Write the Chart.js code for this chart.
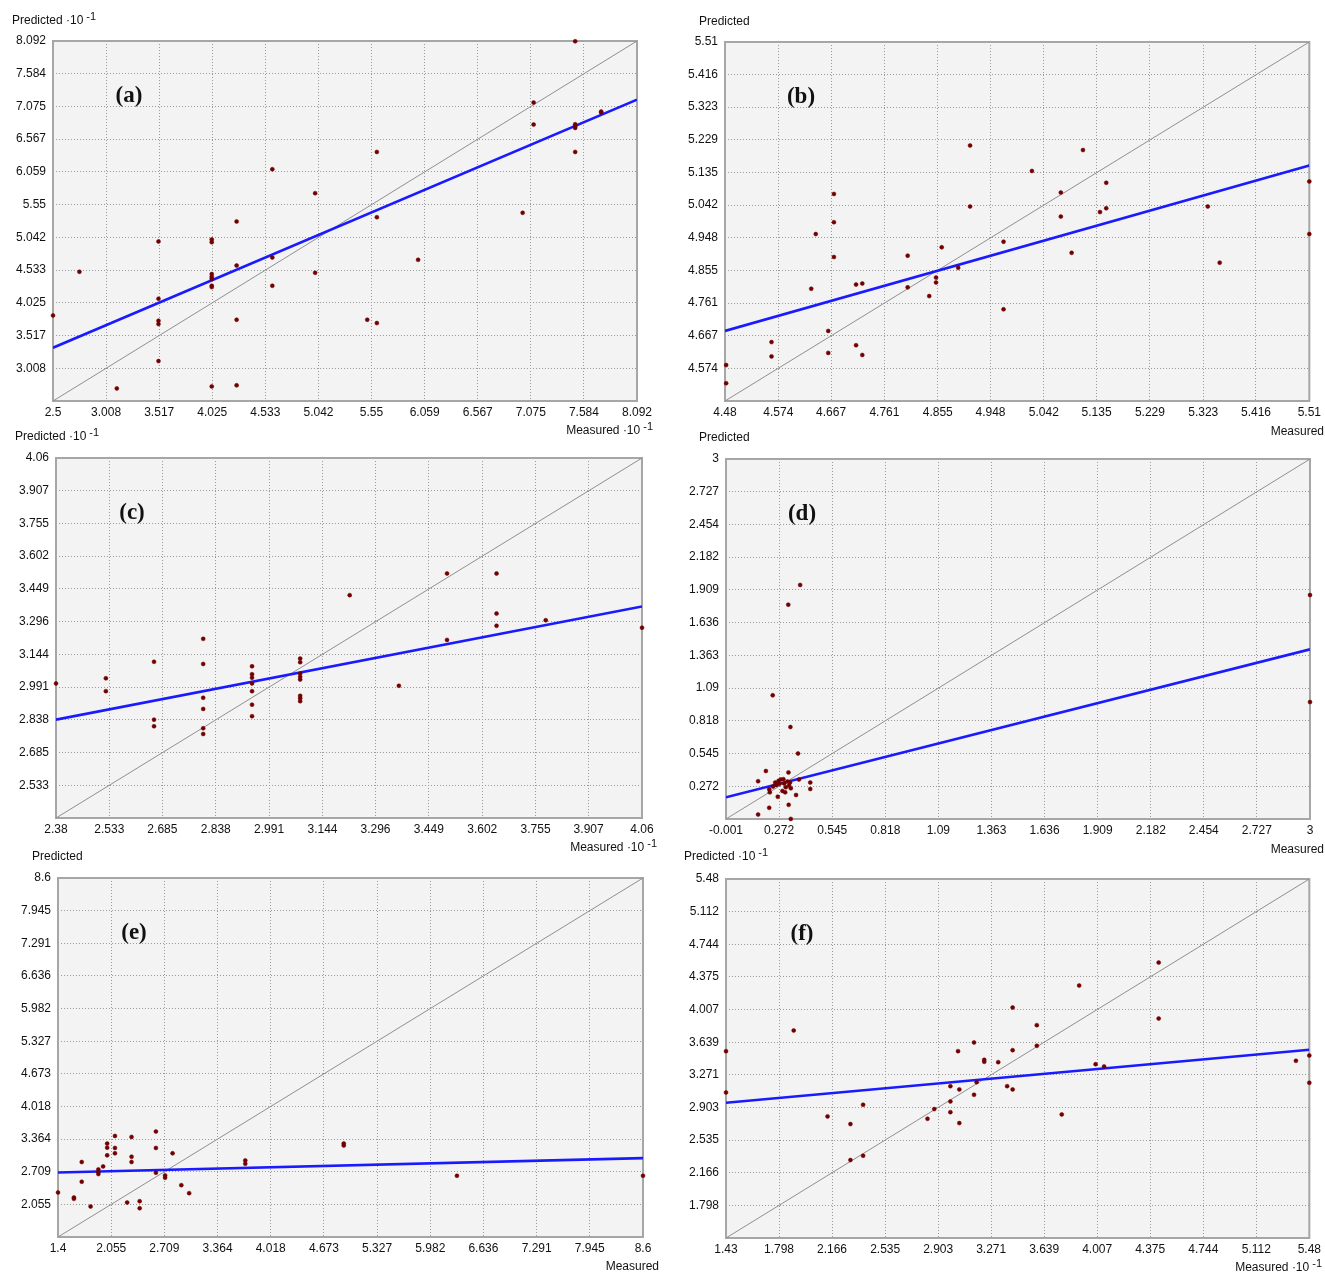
<!DOCTYPE html>
<html>
<head>
<meta charset="utf-8">
<script src="https://cdn.jsdelivr.net/npm/chart.js@4.4.1/dist/chart.umd.min.js"></script>
<style>
  html, body { margin: 0; padding: 0; background: #fff; }
  #wrap { position: relative; width: 1325px; height: 1273px; overflow: hidden; }
  #wrap canvas { position: absolute; }
</style>
</head>
<body>
<div id="wrap"></div>
<script>
// (a)
const ticksA = [2.5, 3.008, 3.517, 4.025, 4.533, 5.042, 5.55, 6.059, 6.567, 7.075, 7.584, 8.092];
const measuredA = [2.5, 2.753, 3.111, 3.51, 3.51, 3.51, 3.51, 3.51, 4.02, 4.02, 4.02, 4.02, 4.02, 4.02, 4.02, 4.02,
  4.258, 4.258, 4.258, 4.258, 4.6, 4.6, 4.6, 5.01, 5.01, 5.509, 5.601, 5.601, 5.601, 5.996, 6.997, 7.102, 7.102,
  7.5, 7.5, 7.5, 7.5, 7.5, 7.749, 7.749];
const predictedA = [3.829, 4.507, 2.696, 4.978, 4.088, 3.746, 3.695, 3.12, 5.009, 4.967, 4.471, 4.429, 4.398, 4.29, 4.269, 2.727,
  5.288, 4.605, 3.762, 2.743, 6.1, 4.729, 4.29, 5.728, 4.491, 3.762, 6.369, 5.355, 3.71, 4.693, 5.423, 7.135, 6.794,
  8.087, 6.799, 6.768, 6.742, 6.369, 6.995, 6.98];
const fitA = [3.327, 7.181];

// (b)
const ticksB = [4.48, 4.574, 4.667, 4.761, 4.855, 4.948, 5.042, 5.135, 5.229, 5.323, 5.416, 5.51];
const measuredB = [4.482, 4.482, 4.562, 4.562, 4.632, 4.64, 4.662, 4.662, 4.672, 4.672, 4.672, 4.711, 4.722, 4.711, 4.722,
  4.802, 4.802, 4.84, 4.852, 4.852, 4.862, 4.891, 4.912, 4.912, 4.971, 4.971, 5.021, 5.072, 5.072, 5.091, 5.111,
  5.141, 5.152, 5.152, 5.331, 5.352, 5.51, 5.51];
const predictedB = [4.583, 4.531, 4.649, 4.608, 4.802, 4.959, 4.681, 4.618, 5.074, 4.993, 4.893, 4.814, 4.817, 4.64, 4.612,
  4.897, 4.806, 4.781, 4.834, 4.82, 4.921, 4.862, 5.213, 5.038, 4.937, 4.743, 5.14, 5.078, 5.009, 4.905, 5.2,
  5.022, 5.106, 5.033, 5.038, 4.877, 5.11, 4.959];
const fitB = [4.681, 5.156];

// (c)
const ticksC = [2.38, 2.533, 2.685, 2.838, 2.991, 3.144, 3.296, 3.449, 3.602, 3.755, 3.907, 4.06];
const measuredC = [2.38, 2.523, 2.523, 2.661, 2.661, 2.661, 2.802, 2.802, 2.802, 2.802, 2.802, 2.802,
  2.942, 2.942, 2.942, 2.942, 2.942, 2.942, 2.942, 3.08, 3.08, 3.08, 3.08, 3.08, 3.08, 3.08, 3.08,
  3.222, 3.363, 3.501, 3.501, 3.643, 3.643, 3.643, 3.784, 4.06];
const predictedC = [3.008, 3.032, 2.972, 3.109, 2.839, 2.808, 3.216, 3.099, 2.941, 2.889, 2.799, 2.772,
  3.088, 3.051, 3.035, 3.008, 2.972, 2.909, 2.855, 3.124, 3.107, 3.054, 3.039, 3.026, 2.95, 2.939, 2.925,
  3.42, 2.997, 3.521, 3.211, 3.521, 3.334, 3.277, 3.303, 3.268];
const fitC = [2.839, 3.367];

// (d)
const ticksD = [-0.001, 0.272, 0.545, 0.818, 1.09, 1.363, 1.636, 1.909, 2.182, 2.454, 2.727, 3];
const measuredD = [0.38, 0.319, 0.239, 0.33, 0.369, 0.204, 0.32, 0.164, 0.252, 0.269, 0.281, 0.294, 0.258, 0.241,
  0.221, 0.224, 0.298, 0.306, 0.323, 0.328, 0.332, 0.289, 0.303, 0.265, 0.359, 0.374, 0.432, 0.432, 0.221, 0.321,
  0.164, 0.332, 0.272, 0.315, 3, 3];
const predictedD = [1.95, 1.786, 1.03, 0.766, 0.545, 0.399, 0.387, 0.314, 0.303, 0.317, 0.328, 0.331, 0.283, 0.269,
  0.247, 0.221, 0.295, 0.264, 0.278, 0.303, 0.255, 0.233, 0.221, 0.185, 0.199, 0.328, 0.303, 0.249, 0.092, 0.117,
  0.036, 0.0, 0.292, 0.311, 1.866, 0.974];
const fitD = [0.18, 1.413];

// (e)
const ticksE = [1.4, 2.055, 2.709, 3.364, 4.018, 4.673, 5.327, 5.982, 6.636, 7.291, 7.945, 8.6];
const measuredE = [1.4, 1.596, 1.596, 1.692, 1.692, 1.801, 1.897, 1.897, 1.897, 1.955, 2.005, 2.005, 2.005,
  2.101, 2.101, 2.101, 2.251, 2.305, 2.305, 2.305, 2.405, 2.405, 2.605, 2.605, 2.605, 2.718, 2.718, 2.81,
  2.918, 3.014, 3.705, 3.705, 4.917, 4.917, 6.31, 8.6];
const predictedE = [2.293, 2.192, 2.165, 2.904, 2.508, 2.011, 2.756, 2.702, 2.662, 2.816, 3.273, 3.192, 3.038,
  3.427, 3.186, 3.078, 2.091, 3.407, 3.011, 2.904, 2.118, 1.977, 3.515, 3.186, 2.689, 2.635, 2.588, 3.078,
  2.44, 2.279, 2.935, 2.868, 3.275, 3.235, 2.628, 2.628];
const fitE = [2.695, 2.981];

// (f)
const ticksF = [1.43, 1.798, 2.166, 2.535, 2.903, 3.271, 3.639, 4.007, 4.375, 4.744, 5.112, 5.48];
const measuredF = [1.43, 1.43, 1.9, 2.135, 2.294, 2.294, 2.382, 2.382, 2.829, 2.876, 2.988, 2.988, 2.988, 3.041,
  3.05, 3.05, 3.152, 3.152, 3.17, 3.223, 3.223, 3.32, 3.382, 3.42, 3.42, 3.42, 3.588, 3.588, 3.761, 3.882,
  3.996, 4.055, 4.434, 4.434, 5.387, 5.48, 5.48];
const predictedF = [3.538, 3.072, 3.771, 2.802, 2.715, 2.309, 2.933, 2.358, 2.775, 2.884, 3.143, 2.971, 2.85, 3.538,
  3.106, 2.726, 3.636, 3.046, 3.188, 3.44, 3.418, 3.414, 3.143, 4.03, 3.549, 3.106, 3.831, 3.598, 2.824, 4.278,
  3.391, 3.365, 4.537, 3.906, 3.429, 3.489, 3.181];
const fitF = [2.956, 3.553];

const FONT = "'Liberation Sans', Arial, sans-serif";

// box = canvas position on the page (canvases overlap, they are transparent),
// plot = chart area on the page
const panels = [
  { letter: '(a)', ticks: ticksA, mx: measuredA, pr: predictedA, fit: fitA, exp: true,
    box: { x: 0, y: 0, w: 662, h: 445 }, plot: { l: 53, t: 41, r: 637, b: 401 },
    pred: { x: 12, y: 21 }, meas: { x: 653, y: 431 } },
  { letter: '(b)', ticks: ticksB, mx: measuredB, pr: predictedB, fit: fitB, exp: false,
    box: { x: 662, y: 0, w: 663, h: 445 }, plot: { l: 725, t: 42, r: 1310, b: 401 },
    pred: { x: 699, y: 22 }, meas: { x: 1324, y: 432 } },
  { letter: '(c)', ticks: ticksC, mx: measuredC, pr: predictedC, fit: fitC, exp: true,
    box: { x: 0, y: 420, w: 662, h: 445 }, plot: { l: 56, t: 458, r: 642, b: 818 },
    pred: { x: 15, y: 437 }, meas: { x: 657, y: 848 } },
  { letter: '(d)', ticks: ticksD, mx: measuredD, pr: predictedD, fit: fitD, exp: false,
    box: { x: 662, y: 420, w: 663, h: 445 }, plot: { l: 726, t: 459, r: 1310, b: 819 },
    pred: { x: 699, y: 438 }, meas: { x: 1324, y: 850 } },
  { letter: '(e)', ticks: ticksE, mx: measuredE, pr: predictedE, fit: fitE, exp: false,
    box: { x: 0, y: 840, w: 662, h: 433 }, plot: { l: 58, t: 878, r: 643, b: 1237 },
    pred: { x: 32, y: 857 }, meas: { x: 659, y: 1267 } },
  { letter: '(f)', ticks: ticksF, mx: measuredF, pr: predictedF, fit: fitF, exp: true,
    box: { x: 662, y: 840, w: 663, h: 433 }, plot: { l: 726, t: 879, r: 1310, b: 1238 },
    pred: { x: 684, y: 857 }, meas: { x: 1322, y: 1268 } }
];

// caption with optional "·10 -1" superscript
function caption(ctx, text, exp, x, y, alignRight) {
  ctx.save();
  ctx.fillStyle = '#111';
  ctx.textBaseline = 'middle';
  ctx.textAlign = 'left';
  const main = exp ? text + ' \u00b710' : text;
  ctx.font = '12px ' + FONT;
  const w1 = ctx.measureText(main).width;
  ctx.font = '11px ' + FONT;
  const w2 = exp ? ctx.measureText('-1').width + 3 : 0;
  const x0 = alignRight ? x - w1 - w2 : x;
  ctx.font = '12px ' + FONT;
  ctx.fillText(main, x0, y);
  if (exp) {
    ctx.font = '11px ' + FONT;
    ctx.fillText('-1', x0 + w1 + 3, y - 4);
  }
  ctx.restore();
}

const wrap = document.getElementById('wrap');

panels.forEach(p => {
  const canvas = document.createElement('canvas');
  canvas.width = p.box.w;
  canvas.height = p.box.h;
  canvas.style.left = p.box.x + 'px';
  canvas.style.top = p.box.y + 'px';
  wrap.appendChild(canvas);

  const lo = p.ticks[0];
  const hi = p.ticks[p.ticks.length - 1];
  const points = p.mx.map((m, i) => ({ x: m, y: p.pr[i] }));

  const decor = {
    id: 'decor',
    beforeDraw(chart) {
      const { ctx, chartArea: a } = chart;
      ctx.save();
      ctx.fillStyle = '#f3f3f3';
      ctx.fillRect(a.left, a.top, a.right - a.left, a.bottom - a.top);
      ctx.restore();
    },
    beforeDatasetsDraw(chart) {
      const { ctx, chartArea: a } = chart;
      ctx.save();
      ctx.strokeStyle = '#a6a6a6';
      ctx.lineWidth = 2;
      ctx.strokeRect(a.left, a.top, a.right - a.left, a.bottom - a.top);
      ctx.restore();
    },
    afterDraw(chart) {
      const { ctx, chartArea: a } = chart;
      caption(ctx, 'Predicted', p.exp, p.pred.x - p.box.x, p.pred.y - p.box.y, false);
      caption(ctx, 'Measured', p.exp, p.meas.x - p.box.x, p.meas.y - p.box.y, true);
      ctx.save();
      ctx.font = "bold 23px 'Liberation Serif', 'Times New Roman', serif";
      ctx.fillStyle = '#111';
      ctx.textAlign = 'center';
      ctx.textBaseline = 'middle';
      ctx.fillText(p.letter, a.left + 76, a.top + 55);
      ctx.restore();
    }
  };

  const axis = (isX) => ({
    type: 'linear',
    min: lo,
    max: hi,
    afterBuildTicks: s => { s.ticks = p.ticks.map(v => ({ value: v })); },
    afterFit: s => {
      if (isX) s.height = p.box.y + p.box.h - p.plot.b;
      else s.width = p.plot.l - p.box.x;
    },
    ticks: {
      autoSkip: false,
      maxRotation: 0,
      padding: isX ? 4 : 7,
      color: '#111',
      font: { family: FONT, size: 12 },
      callback: (v, i) => (!isX && i === 0) ? '' : String(v)
    },
    grid: { color: '#9a9a9a', lineWidth: 1, drawTicks: false },
    border: { display: false, dash: [1, 2] }
  });

  new Chart(canvas.getContext('2d'), {
    type: 'scatter',
    data: {
      datasets: [
        {
          data: points,
          pointRadius: 2,
          pointHoverRadius: 2,
          pointBackgroundColor: '#720000',
          pointBorderColor: '#720000',
          pointBorderWidth: 0.5,
          clip: false
        },
        {
          data: [{ x: lo, y: p.fit[0] }, { x: hi, y: p.fit[1] }],
          showLine: true,
          borderColor: '#1a1aff',
          borderWidth: 2.6,
          pointRadius: 0
        },
        {
          data: [{ x: lo, y: lo }, { x: hi, y: hi }],
          showLine: true,
          borderColor: '#8f8f8f',
          borderWidth: 1,
          pointRadius: 0
        }
      ]
    },
    options: {
      responsive: false,
      animation: false,
      events: [],
      layout: { padding: { left: 0, top: p.plot.t - p.box.y, right: p.box.x + p.box.w - p.plot.r, bottom: 0 } },
      plugins: { legend: { display: false }, tooltip: { enabled: false } },
      scales: { x: axis(true), y: axis(false) }
    },
    plugins: [decor]
  });
});
</script>
</body>
</html>
